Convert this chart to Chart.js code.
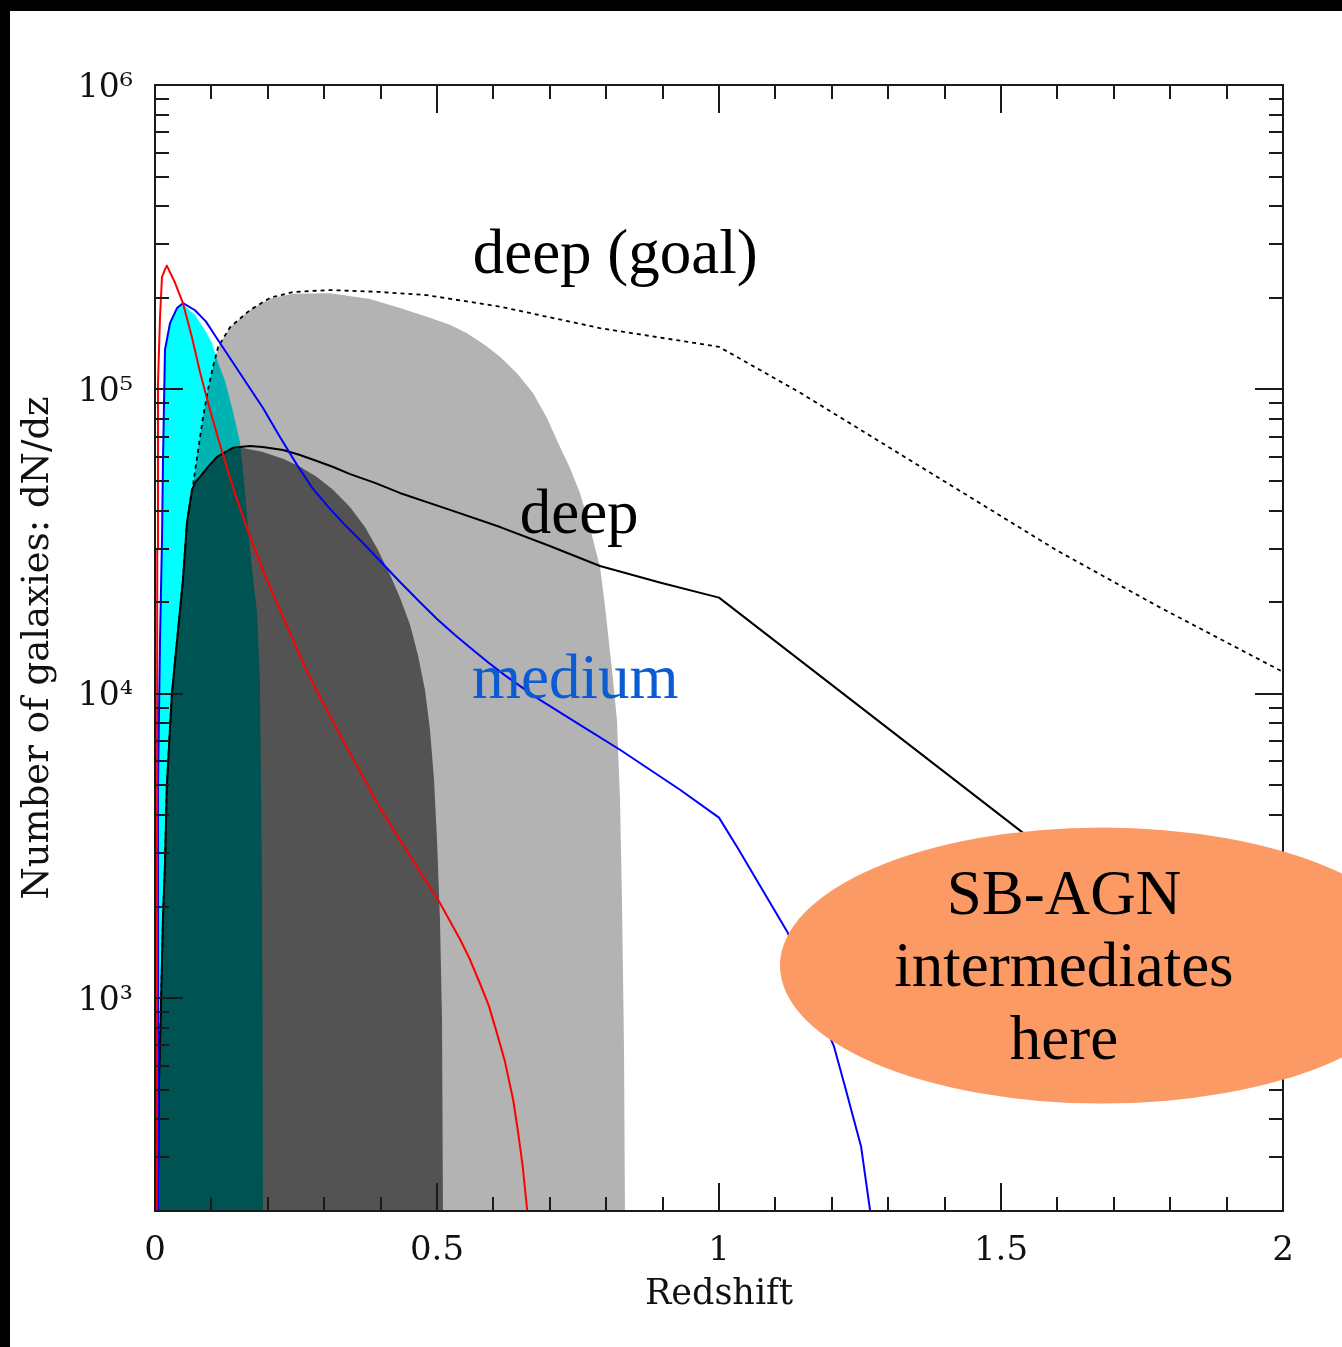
<!DOCTYPE html>
<html>
<head>
<meta charset="utf-8">
<script src="https://cdn.jsdelivr.net/npm/chart.js@4.4.1/dist/chart.umd.min.js"></script>
<style>
  html, body { margin: 0; padding: 0; background: #000; width: 1342px; height: 1347px; overflow: hidden; }
  #panel { position: absolute; left: 10px; top: 11px; width: 1332px; height: 1336px; background: #fff; }
  canvas { display: block; }
</style>
</head>
<body>
<div id="panel"><canvas id="dndz" width="1332" height="1336"></canvas></div>
<script>
// ---- Redshift distributions dN/dz ----------------------------------------

// shallow tier (red curve)
const shallowZ = [0.003, 0.004, 0.0053, 0.0089, 0.0124, 0.0177, 0.021, 0.0355, 0.0496, 0.0656, 0.0798, 0.0975,
  0.1152, 0.1418, 0.1684, 0.195, 0.227, 0.2695, 0.328, 0.399, 0.452, 0.505, 0.541, 0.5585, 0.576, 0.592, 0.606,
  0.6206, 0.635, 0.6436, 0.652, 0.660];
const shallowN = [200, 3.0e4, 1.05e5, 1.73e5, 2.34e5, 2.48e5, 2.55e5, 2.24e5, 1.92e5, 1.48e5, 1.14e5, 8.57e4,
  6.58e4, 4.54e4, 3.28e4, 2.46e4, 1.79e4, 1.18e4, 7.33e3, 4.22e3, 2.94e3, 2.06e3, 1.56e3, 1.34e3, 1.12e3, 944, 771,
  618, 464, 365, 280, 200];

// medium tier (blue curve)
const mediumZ = [0.004, 0.0053, 0.0089, 0.0124, 0.0142, 0.0177, 0.0266, 0.039, 0.0496, 0.0709, 0.0904, 0.1099,
  0.1507, 0.1915, 0.2216, 0.2518, 0.2801, 0.3103, 0.3404, 0.3688, 0.4025, 0.4344, 0.4699, 0.5, 0.5319, 0.5585,
  0.5904, 0.6206, 0.6507, 0.6826, 0.7535, 0.8245, 0.9309, 1.0, 1.034, 1.122, 1.161, 1.204, 1.223, 1.252, 1.268];
const mediumN = [200, 5.0e3, 1.5e4, 3.2e4, 5.9e4, 1.35e5, 1.65e5, 1.85e5, 1.92e5, 1.82e5, 1.67e5, 1.47e5,
  1.13e5, 8.69e4, 6.98e4, 5.65e4, 4.71e4, 4.05e4, 3.53e4, 3.13e4, 2.69e4, 2.33e4, 2.0e4, 1.76e4, 1.56e4, 1.42e4,
  1.27e4, 1.15e4, 1.05e4, 9.55e3, 7.91e3, 6.55e3, 4.84e3, 3.92e3, 3.1e3, 1.64e3, 1.07e3, 693, 516, 325, 200];

// deep tier (solid black curve)
const deepZ = [0.005, 0.007, 0.0106, 0.014, 0.0177, 0.021, 0.030, 0.0355, 0.0496, 0.0567, 0.0656, 0.072, 0.0798,
  0.095, 0.110, 0.138, 0.168, 0.191, 0.227, 0.257, 0.287, 0.316, 0.346, 0.39, 0.434, 0.523, 0.612, 0.70, 0.789,
  0.895, 1.0, 1.53, 2.0];
const deepN = [200, 525, 935, 1.8e3, 2.75e3, 5.0e3, 1.0e4, 1.28e4, 2.37e4, 3.65e4, 4.68e4, 4.97e4, 5.16e4,
  5.6e4, 6.0e4, 6.43e4, 6.52e4, 6.47e4, 6.32e4, 6.09e4, 5.82e4, 5.56e4, 5.27e4, 4.93e4, 4.57e4, 4.02e4, 3.53e4,
  3.06e4, 2.63e4, 2.32e4, 2.07e4, 3.6e3, 760];

// deep tier at goal depth (dashed black curve)
const goalZ = [0.005, 0.007, 0.0106, 0.014, 0.0177, 0.021, 0.030, 0.0355, 0.0496, 0.0567, 0.0656, 0.068, 0.075,
  0.085, 0.094, 0.103, 0.112, 0.133, 0.168, 0.204, 0.245, 0.31, 0.399, 0.482, 0.612, 0.789, 1.0, 1.144, 1.5975, 1.78, 2.0];
const goalN = [200, 525, 935, 1.8e3, 2.75e3, 5.0e3, 1.0e4, 1.28e4, 2.37e4, 3.65e4, 4.68e4, 4.93e4, 6.06e4,
  8.06e4, 1.0e5, 1.19e5, 1.38e5, 1.6e5, 1.82e5, 2.0e5, 2.09e5, 2.12e5, 2.09e5, 2.04e5, 1.87e5, 1.59e5, 1.38e5, 9.75e4, 2.97e4, 1.93e4, 1.18e4];

// shaded: goal-depth sample with redshifts (light grey)
const goalShadeZ = [0.005, 0.007, 0.0106, 0.014, 0.0177, 0.021, 0.030, 0.0355, 0.0496, 0.0567, 0.0656, 0.068,
  0.075, 0.085, 0.094, 0.103, 0.112, 0.133, 0.168, 0.204, 0.2447, 0.3103, 0.3812, 0.4344, 0.4876, 0.523, 0.5532,
  0.5851, 0.6117, 0.6418, 0.6702, 0.695, 0.7181, 0.7358, 0.7535, 0.7713, 0.789, 0.7961, 0.8032, 0.8121, 0.8191,
  0.8245, 0.828, 0.8316, 0.8333];
const goalShadeN = [200, 525, 935, 1.8e3, 2.75e3, 5.0e3, 1.0e4, 1.28e4, 2.37e4, 3.65e4, 4.68e4, 4.93e4,
  6.06e4, 8.06e4, 1.0e5, 1.19e5, 1.38e5, 1.6e5, 1.82e5, 1.99e5, 2.06e5, 2.07e5, 1.98e5, 1.85e5, 1.72e5, 1.63e5, 1.53e5,
  1.40e5, 1.28e5, 1.13e5, 9.74e4, 8.06e4, 6.47e4, 5.52e4, 4.57e4, 3.51e4, 2.61e4, 2.07e4, 1.58e4, 1.11e4, 8.2e3,
  4.49e3, 2.11e3, 678, 200];

// shaded: deep sample with redshifts (dark grey)
const deepShadeZ = [0.005, 0.007, 0.0106, 0.014, 0.0177, 0.021, 0.030, 0.0355, 0.0496, 0.0567, 0.0656, 0.072,
  0.0798, 0.095, 0.110, 0.138, 0.1543, 0.1897, 0.227, 0.2571, 0.2872, 0.3156, 0.3457, 0.3723, 0.3954, 0.4167,
  0.4344, 0.4521, 0.4663, 0.4787, 0.4876, 0.4947, 0.5, 0.5053, 0.5089, 0.5106];
const deepShadeN = [200, 525, 935, 1.8e3, 2.75e3, 5.0e3, 1.0e4, 1.28e4, 2.37e4, 3.65e4, 4.68e4, 4.97e4,
  5.16e4, 5.6e4, 6.0e4, 6.4e4, 6.43e4, 6.24e4, 5.92e4, 5.57e4, 5.16e4, 4.68e4, 4.11e4, 3.53e4, 2.97e4, 2.46e4,
  2.07e4, 1.69e4, 1.34e4, 1.03e4, 7.62e3, 5.22e3, 3.32e3, 1.81e3, 850, 200];

// shaded: medium sample with redshifts (cyan)
const mediumShadeZ = [0.004, 0.0053, 0.0089, 0.0124, 0.0142, 0.0177, 0.0266, 0.039, 0.0496, 0.0709, 0.09, 0.101,
  0.112, 0.124, 0.138, 0.151, 0.16, 0.168, 0.175, 0.181, 0.186, 0.190, 0.1915];
const mediumShadeN = [200, 5.0e3, 1.5e4, 3.2e4, 5.9e4, 1.35e5, 1.65e5, 1.85e5, 1.9e5, 1.76e5, 1.55e5, 1.42e5,
  1.22e5, 1.07e5, 8.5e4, 6.67e4, 4.5e4, 3.04e4, 2.3e4, 1.85e4, 1.11e4, 2.1e3, 200];

// axis ticks
const xTickValues = [0, 0.5, 1, 1.5, 2];
const xTickLabels = ['0', '0.5', '1', '1.5', '2'];
const yTickValues = [1e3, 1e4, 1e5, 1e6];
const yTickLabels = ['10\u00B3', '10\u2074', '10\u2075', '10\u2076'];

// ---- chart ---------------------------------------------------------------
const toPoints = (zs, ns) => zs.map((z, i) => ({ x: z, y: ns[i] }));

const shade = (label, zs, ns, color) => ({
  label, data: toPoints(zs, ns), backgroundColor: color, borderColor: 'rgba(0,0,0,0)',
  borderWidth: 0, fill: 'start', pointRadius: 0, tension: 0
});
const curve = (label, zs, ns, color, width, dash) => ({
  label, data: toPoints(zs, ns), borderColor: color, borderWidth: width, borderDash: dash || [],
  fill: false, pointRadius: 0, tension: 0, borderJoinStyle: 'round'
});

const notes = [
  { text: 'deep (goal)', z: 0.816, n: 2.41e5, color: '#000' },
  { text: 'deep', z: 0.752, n: 3.38e4, color: '#000' },
  { text: 'medium', z: 0.745, n: 9.7e3, color: '#0b5bd3' }
];
const callout = {
  z: 1.679, n: 1.28e3, rx: 322, ry: 138, color: '#fc9a66',
  lines: ['SB-AGN', 'intermediates', 'here'], dx: -38, dy: [-52, 20, 93]
};

const framePlugin = {
  id: 'frameAndNotes',
  // shaded areas overlap like stacked filters: keep the darker channel
  beforeDraw(chart) { chart.ctx.globalCompositeOperation = 'darken'; },
  beforeDatasetsDraw(chart) { chart.ctx.globalCompositeOperation = 'source-over'; },
  afterDatasetsDraw(chart) {
    const { ctx, chartArea: a, scales: { x, y } } = chart;
    ctx.save();
    ctx.globalCompositeOperation = 'source-over';
    ctx.strokeStyle = '#1a1a1a';
    ctx.lineWidth = 2;
    ctx.beginPath();
    // x ticks (inward, bottom and top)
    for (let i = 0; i <= 20; i++) {
      const v = i / 10;
      const px = Math.round(x.getPixelForValue(v));
      const len = (i % 5 === 0) ? 28 : 14;
      ctx.moveTo(px, a.bottom); ctx.lineTo(px, a.bottom - len);
      ctx.moveTo(px, a.top); ctx.lineTo(px, a.top + len);
    }
    // y ticks (inward, left and right)
    for (let e = 2; e <= 6; e++) {
      for (let m = 1; m <= 9; m++) {
        const v = m * Math.pow(10, e);
        if (v < y.min || v > y.max) continue;
        const py = Math.round(y.getPixelForValue(v));
        const len = (m === 1) ? 28 : 14;
        ctx.moveTo(a.left, py); ctx.lineTo(a.left + len, py);
        ctx.moveTo(a.right, py); ctx.lineTo(a.right - len, py);
      }
    }
    ctx.stroke();
    ctx.strokeRect(a.left, a.top, a.right - a.left, a.bottom - a.top);

    // curve labels
    ctx.font = '63px "Liberation Serif", "Times New Roman", serif';
    ctx.textAlign = 'center';
    ctx.textBaseline = 'alphabetic';
    notes.forEach(nt => {
      ctx.fillStyle = nt.color;
      ctx.fillText(nt.text, x.getPixelForValue(nt.z), y.getPixelForValue(nt.n));
    });

    // callout ellipse
    const cx = x.getPixelForValue(callout.z), cy = y.getPixelForValue(callout.n);
    ctx.fillStyle = callout.color;
    ctx.beginPath();
    ctx.ellipse(cx, cy, callout.rx, callout.ry, 0, 0, Math.PI * 2);
    ctx.fill();
    ctx.fillStyle = '#000';
    callout.lines.forEach((t, i) => ctx.fillText(t, cx + callout.dx, cy + callout.dy[i]));
    ctx.restore();
  }
};

new Chart(document.getElementById('dndz'), {
  type: 'line',
  data: {
    datasets: [
      shade('deep (goal) with z', goalShadeZ, goalShadeN, '#b3b3b3'),
      shade('deep with z', deepShadeZ, deepShadeN, '#535353'),
      shade('medium with z', mediumShadeZ, mediumShadeN, '#00ffff'),
      curve('shallow', shallowZ, shallowN, '#ff0000', 2),
      curve('medium', mediumZ, mediumN, '#0000ff', 2),
      curve('deep', deepZ, deepN, '#000000', 2),
      curve('deep (goal)', goalZ, goalN, '#000000', 1.8, [4, 4])
    ]
  },
  options: {
    responsive: false,
    devicePixelRatio: 1,
    animation: false,
    layout: { padding: { left: 0, top: 74, right: 59, bottom: 0 } },
    plugins: {
      legend: { display: false },
      tooltip: { enabled: false },
      filler: { drawTime: 'beforeDatasetsDraw' }
    },
    scales: {
      x: {
        type: 'linear', min: 0, max: 2,
        afterFit: s => { s.height = 136; },
        afterBuildTicks: s => { s.ticks = xTickValues.map(v => ({ value: v })); },
        grid: { display: false, drawTicks: false },
        border: { display: false },
        ticks: {
          autoSkip: false, maxRotation: 0, padding: 20, color: '#111',
          font: { family: 'DejaVu Serif', size: 34 },
          callback: (v, i) => xTickLabels[i]
        },
        title: {
          display: true, text: 'Redshift', color: '#111',
          font: { family: 'DejaVu Serif', size: 35 },
          padding: { top: 0, bottom: 31 }
        }
      },
      y: {
        type: 'logarithmic', min: 200, max: 1e6,
        afterFit: s => { s.width = 145; },
        afterBuildTicks: s => { s.ticks = yTickValues.map(v => ({ value: v, major: true })); },
        grid: { display: false, drawTicks: false },
        border: { display: false },
        ticks: {
          autoSkip: false, padding: 22, labelOffset: 3, color: '#111',
          font: { family: 'DejaVu Serif', size: 33 },
          callback: (v, i) => yTickLabels[i]
        },
        title: {
          display: true, text: 'Number of galaxies: dN/dz', color: '#111',
          font: { family: 'DejaVu Serif', size: 37 },
          padding: { top: 6, bottom: 0 }
        }
      }
    }
  },
  plugins: [framePlugin]
});
</script>
</body>
</html>
